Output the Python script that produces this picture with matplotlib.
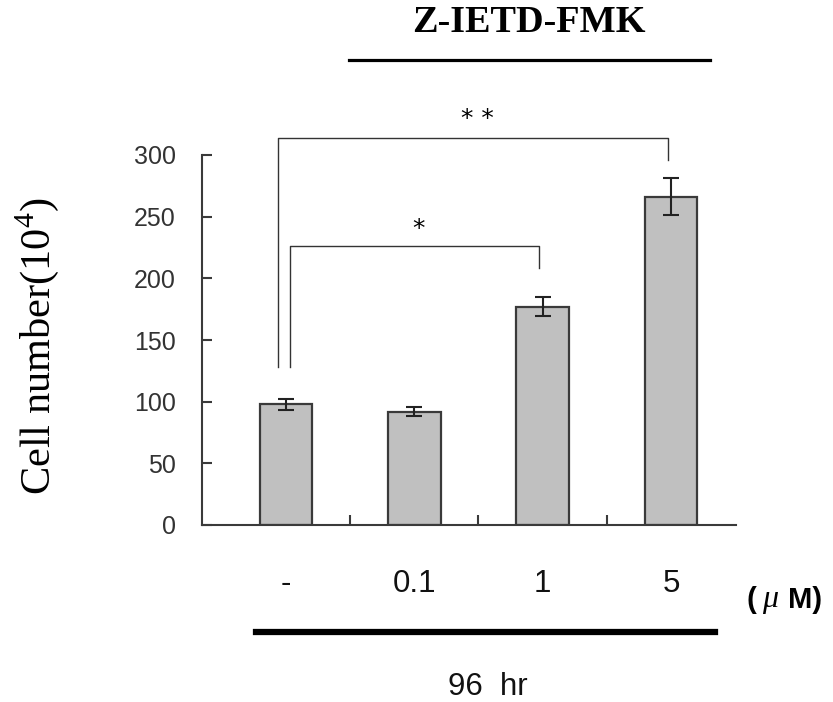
import matplotlib
matplotlib.use("Agg")
import matplotlib.pyplot as plt

plt.rcParams['mathtext.fontset'] = 'custom'
plt.rcParams['mathtext.rm'] = 'Liberation Serif'

categories = ['-', '0.1', '1', '5']
values = [98, 92, 177, 266]
errors = [4.5, 4, 7.5, 15]
yticks = [0, 50, 100, 150, 200, 250, 300]

fig = plt.figure(figsize=(8.33, 7.02), dpi=100)
ax = fig.add_axes([202/833, 1-525/702, (736-202)/833, (525-155)/702])

x = list(range(len(categories)))
dark = '#3a3a3a'
ax.bar(x, values, width=0.41, color='#c0c0c0', edgecolor=dark, linewidth=1.6, zorder=2)
ax.errorbar(x, values, yerr=errors, fmt='none', ecolor='#222222', elinewidth=1.5,
            capsize=6, capthick=1.5, zorder=3)

ax.set_xlim(-0.655, 3.507)
ax.set_ylim(0, 300)
ax.set_yticks(yticks)
ax.set_yticklabels([str(t) for t in yticks], fontsize=18, family='Liberation Sans', color='#333333')
ax.set_xticks([0.5, 1.5, 2.5])
ax.set_xticklabels([])
ax.tick_params(axis='both', direction='in', length=7, width=1.5, color=dark)
ax.tick_params(axis='y', pad=19)
for s in ['top', 'right']:
    ax.spines[s].set_visible(False)
for s in ['left', 'bottom']:
    ax.spines[s].set_color(dark)
    ax.spines[s].set_linewidth(1.5)

# category labels
for xi, lab in zip(x, categories):
    ax.text(xi, -0.1595, lab, transform=ax.get_xaxis_transform(), ha='center', va='center',
            fontsize=22.5, family='Liberation Sans', color='#111111')

# significance brackets
bc = '#333333'
ax.plot([-0.06, -0.06, 2.98, 2.98], [128, 314, 314, 296], color=bc, lw=1.0, clip_on=False)
ax.plot([0.03, 0.03, 1.97, 1.97], [128, 226, 226, 208], color=bc, lw=1.0, clip_on=False)
ax.text(1.49, 329, '* *', ha='center', va='center', fontsize=18, family='DejaVu Sans', clip_on=False)
ax.text(1.03, 240, '*', ha='center', va='center', fontsize=18, family='DejaVu Sans', clip_on=False)

# y label
fig.text(0.045, 0.507, r'Cell number(10$^{\mathrm{4}}$)', rotation=90, ha='center', va='center',
         fontsize=30.5, family='Liberation Serif')

# top treatment label and line
fig.text(529/833, 1-22/702, 'Z-IETD-FMK', ha='center', va='center', fontsize=27.5,
         family='Liberation Serif', weight='bold')
fig.add_artist(plt.Line2D([349/833, 710/833], [1-60/702, 1-60/702], color='black', lw=2.3))

# unit label
fig.text(746/833, 1-600/702, '(', ha='left', va='center', fontsize=21, family='Liberation Sans', weight='bold')
fig.text(762/833, 1-600/702, 'μ', ha='left', va='center', fontsize=23, family='Liberation Serif', style='italic')
fig.text(788/833, 1-600/702, 'M)', ha='left', va='center', fontsize=21, family='Liberation Sans', weight='bold')

# bottom bar and time label
fig.add_artist(plt.Line2D([256/833, 715/833], [1-632/702, 1-632/702], color='black', lw=4.5))
fig.text(488/833, 1-687/702, '96  hr', ha='center', va='center', fontsize=22.5, family='Liberation Sans', color='#111111')

fig.savefig('out.png', dpi=100, facecolor='white')
